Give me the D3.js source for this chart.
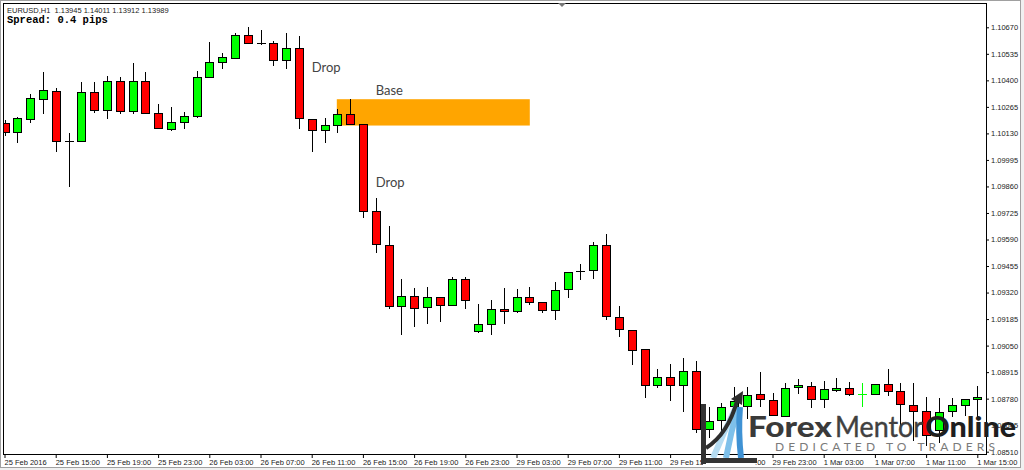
<!DOCTYPE html>
<html><head><meta charset="utf-8">
<script src="https://cdn.jsdelivr.net/npm/d3@7"></script>
<style>html,body{margin:0;padding:0;background:#fff;overflow:hidden}svg{display:block}</style>
</head><body><svg id="c" width="1024" height="470"></svg>
<script>
// ---- data (EURUSD H1, 25 Feb 2016 11:00 -> 1 Mar 2016 15:00) ----
const open  = [1.10184,1.10137,1.10203,1.10305,1.10346,1.10091,1.10091,1.10341,1.10249,1.10398,1.10244,1.10398,1.10234,1.10152,1.10188,1.10219,1.10418,1.10493,1.10514,1.10631,1.10590,1.10590,1.10504,1.10565,1.10203,1.10147,1.10173,1.10229,1.10178,1.09735,1.09562,1.09251,1.09302,1.09246,1.09297,1.09257,1.09389,1.09124,1.09160,1.09235,1.09226,1.09297,1.09272,1.09231,1.09338,1.09430,1.09435,1.09562,1.09195,1.09129,1.09033,1.08849,1.08890,1.08849,1.08921,1.08625,1.08671,1.08742,1.08745,1.08804,1.08773,1.08694,1.08837,1.08844,1.08778,1.08826,1.08834,1.08804,1.08804,1.08854,1.08819,1.08748,1.08717,1.08620,1.08717,1.08748,1.08778];
const high  = [1.10198,1.10214,1.10331,1.10443,1.10361,1.10132,1.10393,1.10393,1.10423,1.10418,1.10488,1.10443,1.10280,1.10264,1.10239,1.10448,1.10595,1.10539,1.10641,1.10672,1.10656,1.10600,1.10641,1.10626,1.10203,1.10208,1.10254,1.10305,1.10178,1.09801,1.09659,1.09389,1.09343,1.09348,1.09297,1.09399,1.09399,1.09262,1.09282,1.09343,1.09338,1.09348,1.09272,1.09374,1.09425,1.09465,1.09577,1.09618,1.09251,1.09129,1.09033,1.08931,1.08956,1.08987,1.08972,1.08737,1.08758,1.08839,1.08839,1.08916,1.08809,1.08860,1.08880,1.08865,1.08870,1.08885,1.08865,1.08860,1.08857,1.08931,1.08860,1.08860,1.08788,1.08783,1.08783,1.08778,1.08844];
const low   = [1.10122,1.10086,1.10188,1.10234,1.10040,1.09862,1.10091,1.10239,1.10208,1.10234,1.10234,1.10234,1.10158,1.10147,1.10158,1.10214,1.10418,1.10463,1.10514,1.10590,1.10585,1.10478,1.10463,1.10158,1.10040,1.10086,1.10137,1.10178,1.09704,1.09526,1.09241,1.09109,1.09150,1.09165,1.09175,1.09257,1.09241,1.09119,1.09109,1.09165,1.09221,1.09262,1.09221,1.09185,1.09297,1.09389,1.09394,1.09185,1.09099,1.08956,1.08788,1.08839,1.08773,1.08717,1.08610,1.08585,1.08620,1.08712,1.08681,1.08742,1.08697,1.08694,1.08811,1.08737,1.08737,1.08819,1.08798,1.08742,1.08804,1.08798,1.08630,1.08569,1.08544,1.08559,1.08692,1.08697,1.08692];
const close = [1.10136,1.10208,1.10310,1.10351,1.10091,1.10091,1.10341,1.10249,1.10398,1.10244,1.10398,1.10234,1.10158,1.10188,1.10219,1.10418,1.10493,1.10519,1.10631,1.10590,1.10590,1.10504,1.10565,1.10208,1.10147,1.10173,1.10229,1.10178,1.09735,1.09567,1.09251,1.09302,1.09241,1.09297,1.09257,1.09389,1.09282,1.09160,1.09236,1.09228,1.09297,1.09272,1.09231,1.09333,1.09425,1.09430,1.09562,1.09201,1.09134,1.09028,1.08849,1.08890,1.08849,1.08921,1.08625,1.08666,1.08737,1.08768,1.08798,1.08778,1.08697,1.08834,1.08849,1.08778,1.08829,1.08834,1.08804,1.08805,1.08857,1.08819,1.08753,1.08717,1.08595,1.08712,1.08748,1.08778,1.08786];

const priceTicks = [1.08510,1.08645,1.08780,1.08915,1.09050,1.09185,1.09320,1.09455,1.09590,1.09725,1.09860,1.09995,1.10130,1.10265,1.10400,1.10535,1.10670];
const tickBars   = [0,4,8,12,16,20,24,28,32,36,40,44,48,52,56,60,64,68,72,76];
const tickLabels = ["25 Feb 2016","25 Feb 15:00","25 Feb 19:00","25 Feb 23:00","26 Feb 03:00","26 Feb 07:00","26 Feb 11:00","26 Feb 15:00","26 Feb 19:00","26 Feb 23:00","29 Feb 03:00","29 Feb 07:00","29 Feb 11:00","29 Feb 15:00","29 Feb 19:00","29 Feb 23:00","1 Mar 03:00","1 Mar 07:00","1 Mar 11:00","1 Mar 15:00"];

const zoneBars   = [26, 41];
const zonePrices = [1.10170, 1.10304];
const noteTexts  = ["Drop","Base","Drop"];
const noteBars   = [24, 29, 29];
const notePrices = [1.10444, 1.10323, 1.09857];

const headerLine = "EURUSD,H1  1.13945 1.14011 1.13912 1.13989";
const spreadLine = "Spread: 0.4 pips";

// ---- layout ----
const W = 1024, H = 470;
const plot = {l: 3, r: 986, t: 3, b: 454};
const svg = d3.select("#c");

svg.append("rect").attr("width", W).attr("height", H).attr("fill", "#f0f0f0");
svg.append("rect").attr("x", 0.5).attr("y", 0.5).attr("width", 1020).attr("height", 467)
  .attr("fill", "#fff").attr("stroke", "#a0a0a0");

const x = d3.scaleLinear().domain([0, 76]).range([4.5, 977.3]);
const y = d3.scaleLinear().domain([1.08510, 1.10670]).range([451.7, 27.3]);

svg.append("clipPath").attr("id", "pc").append("rect")
  .attr("x", plot.l).attr("y", plot.t).attr("width", plot.r - plot.l).attr("height", plot.b - plot.t);

const g = svg.append("g").attr("clip-path", "url(#pc)");

// base zone (drawn as background object)
g.append("rect")
  .attr("x", x(zoneBars[0]) - 0.5).attr("y", y(zonePrices[1]))
  .attr("width", x(zoneBars[1]) - x(zoneBars[0]) + 1)
  .attr("height", y(zonePrices[0]) - y(zonePrices[1]))
  .attr("fill", "#FFA500");

// candles
const BULL = "#00FF00", BEAR = "#FF0000";
const idx = d3.range(open.length);
idx.forEach(i => {
  const cx = Math.round(x(i));
  const yo = y(open[i]), yc = y(close[i]);
  const top = Math.min(yo, yc), bot = Math.max(yo, yc);
  const thin = (bot - top) < 1;
  const col = close[i] > open[i] ? BULL : (close[i] < open[i] ? BEAR : "#000");
  const wickCol = thin ? col : "#000";
  g.append("line")
    .attr("x1", cx + 0.5).attr("x2", cx + 0.5)
    .attr("y1", Math.round(y(high[i]))).attr("y2", Math.round(y(low[i])) + 1)
    .attr("stroke", wickCol).attr("stroke-width", 1);
  if (thin) {
    const yy = Math.round(yo) + 0.5;
    g.append("line").attr("x1", cx - 4).attr("x2", cx + 5).attr("y1", yy).attr("y2", yy)
      .attr("stroke", col).attr("stroke-width", 1);
  } else {
    const t = Math.round(top), b = Math.round(bot);
    g.append("rect")
      .attr("x", cx - 4 + 0.5).attr("y", t + 0.5)
      .attr("width", 8).attr("height", Math.max(1, b - t))
      .attr("fill", close[i] > open[i] ? BULL : BEAR)
      .attr("stroke", "#000").attr("stroke-width", 1);
  }
});

// annotations
noteTexts.forEach((t, i) => {
  svg.append("text").attr("x", x(noteBars[i])).attr("y", y(notePrices[i]))
    .attr("font-family", "Lato, 'Open Sans', sans-serif").attr("font-size", 13)
    .attr("fill", "#444").text(t);
});

// frame
svg.append("rect").attr("x", plot.l + 0.5).attr("y", plot.t + 0.5)
  .attr("width", plot.r - plot.l).attr("height", plot.b - plot.t)
  .attr("fill", "none").attr("stroke", "#000");

// right price axis
const ay = svg.append("g").attr("transform", `translate(${plot.r},0)`)
  .call(d3.axisRight(y).tickValues(priceTicks).tickSize(3).tickPadding(2).tickFormat(d3.format(".5f")));
ay.select(".domain").remove();
ay.selectAll("line").attr("stroke", "#000");
ay.selectAll("text").attr("font-family", "'Liberation Sans', Arial, sans-serif").attr("font-size", 7.5).attr("fill", "#222");

// bottom time axis
const ax = svg.append("g").attr("transform", `translate(0,${plot.b})`)
  .call(d3.axisBottom(x).tickValues(tickBars).tickSize(4).tickPadding(2).tickFormat((d, i) => tickLabels[i]));
ax.select(".domain").remove();
ax.selectAll("line").attr("stroke", "#000");
ax.selectAll("text").attr("font-family", "'Liberation Sans', Arial, sans-serif").attr("font-size", 7.5)
  .attr("fill", "#222").attr("text-anchor", "start").attr("x", -0.5);

// header
svg.append("text").attr("x", 7).attr("y", 12.5)
  .attr("font-family", "'Liberation Sans', Arial, sans-serif").attr("font-size", 7.5).attr("fill", "#222")
  .attr("xml:space", "preserve").style("white-space", "pre").text(headerLine);
svg.append("text").attr("x", 7).attr("y", 23)
  .attr("font-family", "'Liberation Mono', 'DejaVu Sans Mono', monospace").attr("font-size", 10.5)
  .attr("font-weight", "bold").attr("fill", "#000").text(spreadLine);

// small scroll marker on top
svg.append("path").attr("d", "M558,3 L566,3 L562,7 Z").attr("fill", "#777");

// ---- watermark logo ----
const logo = svg.append("g");
logo.append("rect").attr("x", 703).attr("y", 455).attr("width", 52).attr("height", 12).attr("fill", "#fff");
logo.append("path").attr("d", "M713,458 Q724,432 736,407").attr("fill", "none").attr("stroke", "#b5dcf2").attr("stroke-width", 6);
logo.append("path").attr("d", "M726,458 Q731,432 738,407").attr("fill", "none").attr("stroke", "#7ec0ea").attr("stroke-width", 6);
logo.append("path").attr("d", "M741,458 Q738,432 740,407").attr("fill", "none").attr("stroke", "#3f92d4").attr("stroke-width", 6);
logo.append("path").attr("d", "M706,448 Q728,434 737,401").attr("fill", "none").attr("stroke", "#2e2e2e").attr("stroke-width", 4);
logo.append("path").attr("d", "M743,391 L731,399 L742,405 Z").attr("fill", "#2e2e2e");
logo.append("rect").attr("x", 701).attr("y", 404).attr("width", 5).attr("height", 60).attr("fill", "#333");
logo.append("rect").attr("x", 701).attr("y", 458).attr("width", 56).attr("height", 5).attr("fill", "#333");

const lf = "Lato, 'Open Sans', sans-serif";
logo.append("text").attr("x", 748).attr("y", 437).attr("font-family", lf).attr("font-size", 28)
  .attr("font-weight", "900").attr("fill", "#3a3a3a")
  .attr("textLength", 84).attr("lengthAdjust", "spacingAndGlyphs").text("Forex");
logo.append("text").attr("x", 835).attr("y", 437).attr("font-family", lf).attr("font-size", 28)
  .attr("font-weight", "normal").attr("fill", "#404040").attr("stroke", "#404040").attr("stroke-width", 0.4)
  .attr("textLength", 88).attr("lengthAdjust", "spacingAndGlyphs").text("Mentor");
logo.append("text").attr("x", 925).attr("y", 437).attr("font-family", lf).attr("font-size", 28)
  .attr("font-weight", "900").attr("fill", "#1e1e1e")
  .attr("textLength", 91).attr("lengthAdjust", "spacingAndGlyphs").text("Online");
logo.append("text").attr("x", 775).attr("y", 450.5).attr("font-family", lf).attr("font-size", 12)
  .attr("fill", "#7a7a7a").attr("textLength", 220).attr("lengthAdjust", "spacing").text("DEDICATED TO TRADERS");
</script></body></html>
